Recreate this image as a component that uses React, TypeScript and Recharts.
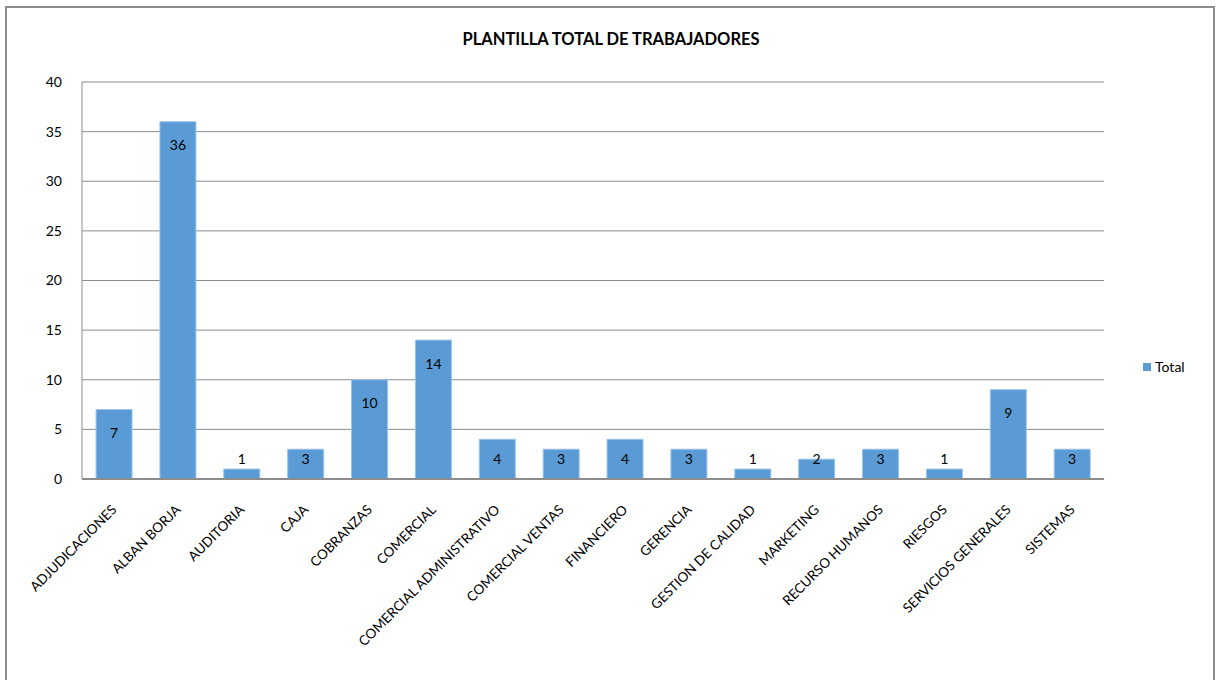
import React from "react";
import {
  BarChart,
  Bar,
  XAxis,
  YAxis,
  CartesianGrid,
  Legend,
  LabelList,
} from "recharts";

const areas = [
  "ADJUDICACIONES",
  "ALBAN BORJA",
  "AUDITORIA",
  "CAJA",
  "COBRANZAS",
  "COMERCIAL",
  "COMERCIAL ADMINISTRATIVO",
  "COMERCIAL VENTAS",
  "FINANCIERO",
  "GERENCIA",
  "GESTION DE CALIDAD",
  "MARKETING",
  "RECURSO HUMANOS",
  "RIESGOS",
  "SERVICIOS GENERALES",
  "SISTEMAS",
];

const totals = [7, 36, 1, 3, 10, 14, 4, 3, 4, 3, 1, 2, 3, 1, 9, 3];

const yTicks = [0, 5, 10, 15, 20, 25, 30, 35, 40];

const data = areas.map((name, i) => ({ name, Total: totals[i] }));

const FONT = "Lato, 'Open Sans', sans-serif";

const AreaTick = ({ x, y, payload }: any) => (
  <g transform={`translate(${x},${y + 20})`}>
    <text
      x={0}
      y={0}
      textAnchor="end"
      dominantBaseline="central"
      transform="rotate(-45)"
      fontSize={13.5}
      fontFamily={FONT}
      fill="#000"
    >
      {payload.value}
    </text>
  </g>
);

// excel style "inside end" label, pushed up over the bar when it is too short
const ValueLabel = ({ x, y, width, height, value }: any) => {
  const bottom = y + height;
  const ly = Math.min(y + 23, bottom - 21);
  return (
    <text
      x={x + width / 2}
      y={ly}
      textAnchor="middle"
      dominantBaseline="central"
      fontSize={14}
      fontFamily={FONT}
      fill="#000"
    >
      {value}
    </text>
  );
};

const LegendBox = () => (
  <div style={{ display: "flex", alignItems: "center", fontFamily: FONT, fontSize: 14 }}>
    <span style={{ width: 8, height: 8, background: "#5b9bd5", marginRight: 4 }} />
    <span>Total</span>
  </div>
);

export default function App() {
  return (
    <div
      style={{
        position: "absolute",
        left: 0,
        top: 0,
        width: 1217,
        height: 680,
        overflow: "hidden",
        background: "#fff",
      }}
    >
      <div
        style={{
          position: "absolute",
          left: 5,
          top: 6,
          width: 1206,
          height: 720,
          border: "2px solid #8c8c8c",
        }}
      />
      <div
        style={{
          position: "absolute",
          left: 0,
          top: 29,
          width: 1222,
          textAlign: "center",
          fontFamily: FONT,
          fontWeight: "bold",
          fontSize: 16.5,
        }}
      >
        PLANTILLA TOTAL DE TRABAJADORES
      </div>
      <div style={{ position: "absolute", left: 0, top: 0 }}>
        <BarChart
          width={1217}
          height={680}
          data={data}
          margin={{ top: 82, right: 113, left: 0, bottom: 11 }}
          barCategoryGap="22%"
        >
          <CartesianGrid vertical={false} stroke="#8c8c8c" />
          <XAxis
            dataKey="name"
            interval={0}
            height={190}
            tick={<AreaTick />}
            tickLine={false}
            axisLine={{ stroke: "#8c8c8c", strokeWidth: 2 }}
          />
          <YAxis
            width={82}
            domain={[0, 40]}
            ticks={yTicks}
            tickLine={false}
            axisLine={{ stroke: "#8c8c8c" }}
            tick={{ fontSize: 14, fontFamily: FONT, fill: "#000" }}
            tickMargin={14}
          />
          <Legend
            layout="horizontal"
            verticalAlign="middle"
            align="center"
            content={<LegendBox />}
            wrapperStyle={{ left: 1143, top: 358, width: 70 }}
          />
          <Bar
            dataKey="Total"
            fill="#5b9bd5"
            stroke="#9dc3e6"
            strokeWidth={1}
            isAnimationActive={false}
          >
            <LabelList dataKey="Total" content={<ValueLabel />} />
          </Bar>
        </BarChart>
      </div>
    </div>
  );
}
